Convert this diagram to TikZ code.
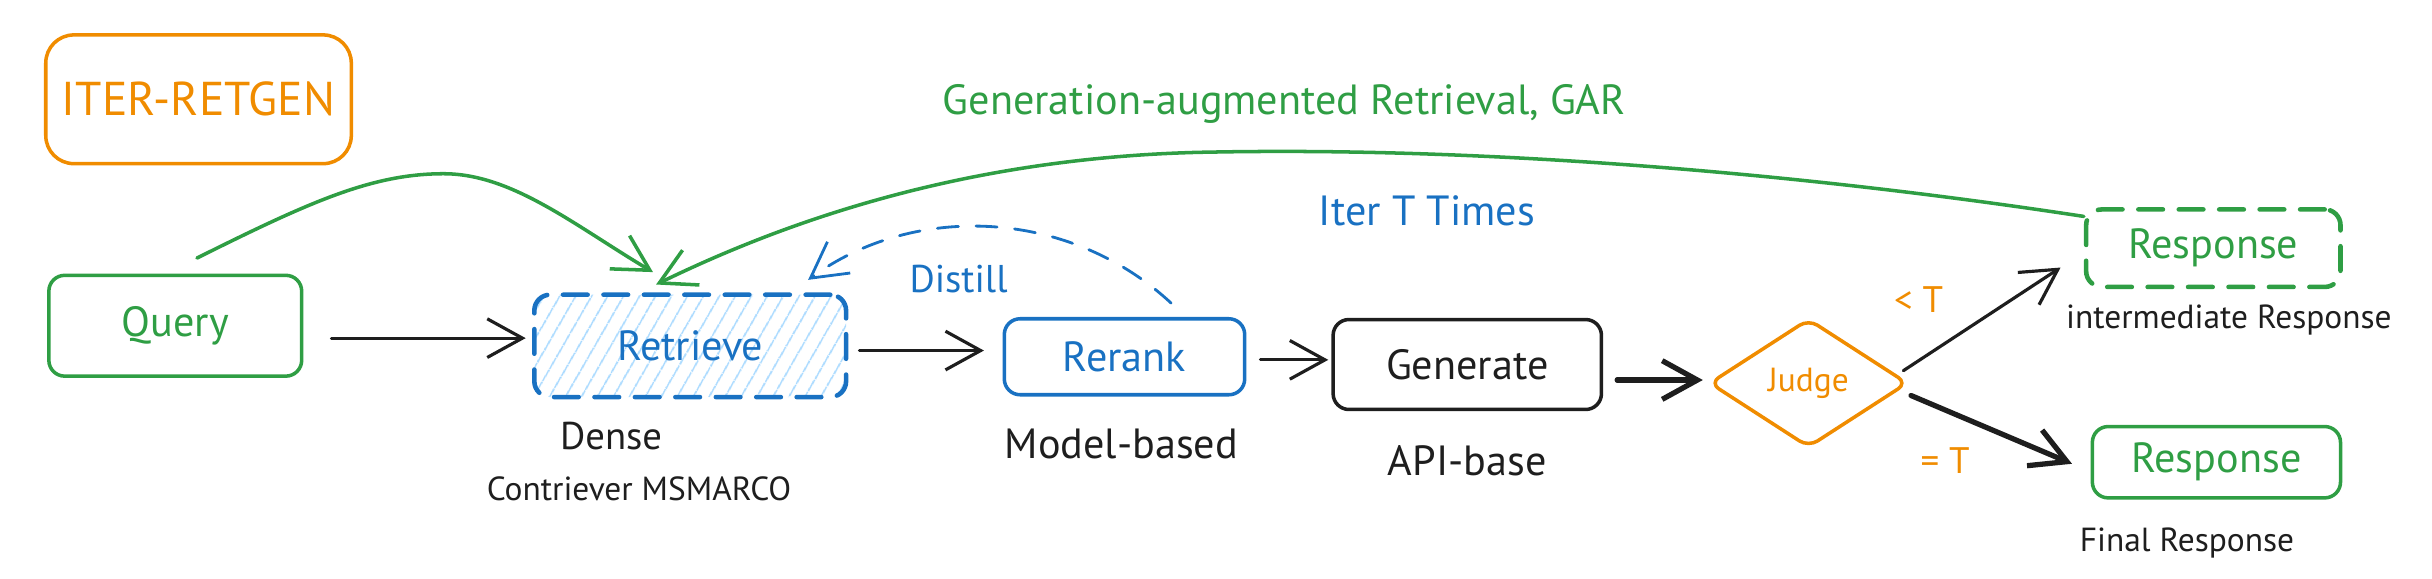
\documentclass[tikz,border=0pt]{standalone}
\usepackage{fontspec}
\setmainfont{PT Sans}
\usepackage{xcolor}
\usepackage{tikz}
\usetikzlibrary{shapes.geometric}
\usetikzlibrary{arrows.meta}
\usetikzlibrary{patterns.meta}
\usetikzlibrary{calc}
\definecolor{sketchgreen}{HTML}{2F9E44}
\definecolor{sketchblue}{HTML}{1971C2}
\definecolor{sketchorange}{HTML}{F08C00}
\definecolor{sketchink}{HTML}{1E1E1E}
\definecolor{hatchblue}{HTML}{A5D8FF}
\def\px{0.01551cm}
\tikzset{
	main node/.style={rectangle,draw,line width=1pt,rounded corners=4.5pt,inner sep=0pt,font=\fontsize{12}{14}\selectfont},
	dashed node/.style={main node,line width=1.3pt,dash pattern=on 7pt off 4.5pt},
	judge node/.style={diamond,draw=sketchorange,text=sketchorange,line width=1pt,rounded corners=3pt,inner sep=0pt,
		minimum width=128*\px,minimum height=83*\px,font=\fontsize{9.5}{11}\selectfont},
	note/.style={text=sketchink,font=\fontsize{12}{14}\selectfont},
	small note/.style={text=sketchink,font=\fontsize{9.5}{11}\selectfont},
	flow/.style={->,draw=sketchink,line width=0.9pt},
	thick flow/.style={flow,line width=1.5pt}
}

\begin{document}
\begin{tikzpicture}[x=\px,y=-\px,>={Straight Barb[length=10pt,width=11pt]},
	    line cap=round,line join=round]
	\useasboundingbox (0,0) rectangle (1568,373);
	% boxes
	\node [main node,draw=sketchorange,text=sketchorange,rounded corners=8pt,minimum width=197*\px,minimum height=83*\px,
		font=\fontsize{13.5}{16}\selectfont] (iter) at (128,64) {ITER-RETGEN};
	\node [main node,draw=sketchgreen,text=sketchgreen,minimum width=163*\px,minimum height=65*\px] (query) at (113,210) {Query};
	\node [dashed node,draw=sketchblue,text=sketchblue,minimum width=201*\px,minimum height=66*\px,
		pattern={Lines[angle=60,distance=4pt,line width=0.5pt]},pattern color=hatchblue] (retrieve) at (445,223) {Retrieve};
	\node [main node,draw=sketchblue,text=sketchblue,minimum width=155*\px,minimum height=49*\px] (rerank) at (725,230) {Rerank};
	\node [main node,draw=sketchink,text=sketchink,minimum width=173*\px,minimum height=58*\px] (generate) at (946,235) {Generate};
	\node [judge node] (judge) at (1166,247) {Judge};
	\node [dashed node,draw=sketchgreen,text=sketchgreen,minimum width=164*\px,minimum height=50*\px] (resp1) at (1427,160) {Response};
	\node [main node,draw=sketchgreen,text=sketchgreen,minimum width=160*\px,minimum height=46*\px] (resp2) at (1429,298) {Response};
	% labels
	\node [note,text=sketchgreen] (gar) at (828,67) {Generation-augmented Retrieval, GAR};
	\node [note,text=sketchblue] (iter times) at (920,136) {Iter T Times};
	\node [note,text=sketchblue,font=\fontsize{11}{13}\selectfont] (distill) at (618,180) {Distill};
	\node [note,font=\fontsize{11}{13}\selectfont] (dense) at (394,281) {Dense};
	\node [small note] (contriever) at (412,315) {Contriever MSMARCO};
	\node [note] (model) at (723,286) {Model-based};
	\node [note] (api) at (946,297) {API-base};
	\node [small note,text=sketchorange,font=\fontsize{10.5}{12}\selectfont] (less) at (1237,193) {< T};
	\node [small note,text=sketchorange,font=\fontsize{10.5}{12}\selectfont] (equal) at (1254,297) {= T};
	\node [small note] (inter) at (1437,206) {intermediate Response};
	\node [small note] (final) at (1410,350) {Final Response};
	% pipeline
	\draw [flow] ($(query.east)+(18,8)$) -- ($(retrieve.west)+(-5,-5)$);
	\draw [flow] ($(retrieve.east)+(8,3)$) -- ($(rerank.west)+(-12,-4)$);
	\draw [flow] ($(rerank.east)+(9,2)$) -- ($(generate.west)+(-2,-3)$);
	\draw [thick flow] ($(generate.east)+(9,10)$) -- ($(judge.west)+(-3,-2)$);
	\draw [flow] ($(judge.east)+(-4,-8)$) -- ($(resp1.south west)+(-15,-14)$);
	\draw [thick flow] ($(judge.east)+(1,8)$) -- ($(resp2.west)+(-12,1)$);
	% feedback curves
	\draw [->,draw=sketchgreen,line width=1pt] ($(query.north)+(14,-10)$) .. controls (200,130) and (240,112) .. (286,112)
		.. controls (330,112) and (370,145) .. ($(retrieve.north)+(-24,-14)$);
	\draw [->,draw=sketchgreen,line width=1pt] ($(resp1.north west)+(0,6)$) .. controls (1150,110) and (950,95) .. (784,98)
		.. controls (620,100) and (500,146) .. ($(retrieve.north)+(-22,-6)$);
	\draw [->,draw=sketchblue,line width=0.8pt,dash pattern=on 6pt off 5pt] ($(rerank.north)+(30,-9)$)
		.. controls (690,135) and (590,130) .. ($(retrieve.north)+(76,-9)$);
\end{tikzpicture}
\end{document}
